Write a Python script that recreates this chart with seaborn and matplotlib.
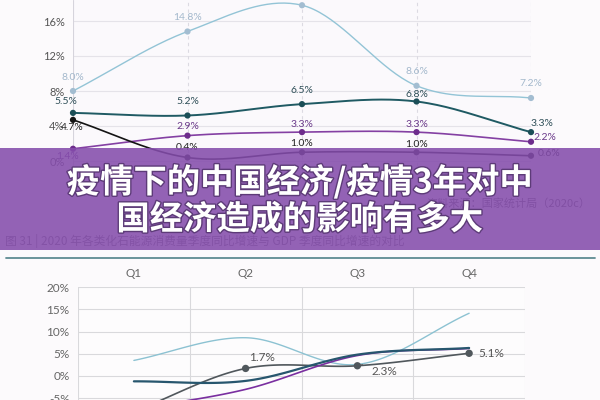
import numpy as np
import matplotlib
matplotlib.use("Agg")
import matplotlib.pyplot as plt
import matplotlib.patheffects as pe
from matplotlib.patches import Rectangle
from matplotlib.lines import Line2D
import seaborn as sns

# --- data: upper chart (five points per series) ---
top_pos = [0, 1, 2, 3, 4]
top_blue = [8.0, 14.8, 17.8, 8.6, 7.2]
top_teal = [5.5, 5.2, 6.5, 6.8, 3.3]
top_purple = [1.4, 2.9, 3.3, 3.3, 2.2]
top_black = [4.7, 0.4, 1.0, 1.0, 0.6]
top_yticks = [0, 4, 8, 12, 16]

# --- data: lower chart (quarters) ---
quarters = ["Q1", "Q2", "Q3", "Q4"]
bot_blue = [3.5, 8.6, 2.6, 14.1]
bot_gray = [-8.0, 1.7, 2.3, 5.1]
bot_teal = [-1.2, -1.1, 4.8, 6.3]
bot_purple = [-7.5, -3.0, 4.6, 6.2]
bot_yticks = [-10, -5, 0, 5, 10, 15, 20]

title_lines = ["疫情下的中国经济/疫情3年对中", "国经济造成的影响有多大"]
caption = "图 31 | 2020 年各类化石能源消费量季度同比增速与 GDP 季度同比增速的对比"
source = "资料来源：国家统计局（2020c）"

sns.set_theme(style="white")
plt.rcParams["font.family"] = ["Lato", "Noto Sans CJK SC", "DejaVu Sans"]
CJK = ["Noto Sans CJK SC", "DejaVu Sans"]

W, H = 600, 400


def box(x0, y0, x1, y1):
    return [x0 / W, 1 - y1 / H, (x1 - x0) / W, (y1 - y0) / H]


def smooth(x, y, n=40):
    # cubic hermite curve through the points, only for drawing
    x = np.asarray(x, float)
    y = np.asarray(y, float)
    m = np.gradient(y, x)
    xs, ys = [], []
    for i in range(len(x) - 1):
        t = np.linspace(0, 1, n)
        h = x[i + 1] - x[i]
        h00 = 2 * t**3 - 3 * t**2 + 1
        h10 = t**3 - 2 * t**2 + t
        h01 = -2 * t**3 + 3 * t**2
        h11 = t**3 - t**2
        xs.append(x[i] + t * h)
        ys.append(h00 * y[i] + h10 * h * m[i] + h01 * y[i + 1] + h11 * h * m[i + 1])
    return np.concatenate(xs), np.concatenate(ys)


def draw_series(ax, x, y, line_c, mark_c, lw, z, marks=True, s=20):
    sx, sy = smooth(x, y)
    sns.lineplot(x=sx, y=sy, ax=ax, color=line_c, linewidth=lw, sort=False,
                 estimator=None, zorder=z)
    if marks:
        sns.scatterplot(x=x, y=y, ax=ax, color=mark_c, s=s, edgecolor="none",
                        zorder=z + 0.5, clip_on=False)


def labels(ax, x, y, offs, color, size=7.5):
    # offs entry None = label sits outside the picture, not drawn
    for xi, yi, off in zip(x, y, offs):
        if off is None:
            continue
        ax.annotate(f"{yi:.1f}%", (xi, yi), xytext=off, textcoords="offset pixels",
                    ha="center", va="center", fontsize=size, color=color, zorder=10)


fig = plt.figure(figsize=(6, 4), dpi=100, facecolor="#fcfafc")

# ---------------- upper chart ----------------
ax1 = fig.add_axes(box(73, 0, 531, 178.5))
ax1.set_facecolor("#fbf9fc")
ax1.set_xlim(0, 4)
ax1.set_ylim(-2, 18.4)
for v in top_yticks:
    ax1.axhline(v, color="#e5e3e9", lw=0.8, zorder=0)
for p in top_pos[1:]:
    ax1.axvline(p, color="#dcdae2", lw=0.8, ls=(0, (3, 3)), zorder=0)
ax1.axvline(0, color="#d6d4dc", lw=0.8, zorder=0)
for s in ax1.spines.values():
    s.set_visible(False)
ax1.set_xticks([])
ax1.set_yticks(top_yticks)
ax1.set_yticklabels([f"{v}%" for v in top_yticks])
ax1.tick_params(axis="y", length=0, pad=6, labelsize=8, labelcolor="#555555")

draw_series(ax1, top_pos, top_blue, "#93c4d6", "#a3bdd1", 1.0, 3)
draw_series(ax1, top_pos, top_teal, "#1f5a63", "#1b4e57", 1.4, 5)
draw_series(ax1, top_pos, top_purple, "#8440a3", "#6d2c8c", 1.2, 4)
draw_series(ax1, top_pos, top_black, "#141414", "#141414", 1.2, 6)

labels(ax1, top_pos, top_blue, [(0, 14), (0, 14), None, (0, 14), (0, 14)], "#a3b8cc")
labels(ax1, top_pos, top_teal, [(-7, 11), (0, 14), (0, 14), (0, 7), (11, 9)], "#2f4f58")
labels(ax1, top_pos, top_purple, [(-5, -8), (0, 9), (0, 8), (0, 8), (14, 4)], "#6b3a8a")
labels(ax1, top_pos, top_black, [(-1, -8), (0, 10), (0, 9), (0, 8), (18, 2)], "#222222")

# ---------------- lower chart ----------------
ax2 = fig.add_axes(box(78, 287, 525, 420.5))
ax2.set_facecolor("#fdfcfd")
ax2.set_xlim(-0.5, 3.5)
ax2.set_ylim(-10, 20)
for v in bot_yticks:
    ax2.axhline(v, color="#d9d9dc", lw=0.8, zorder=0)
for p in np.arange(-0.5, 4, 1):
    ax2.axvline(p, color="#d9d9dc", lw=0.8, zorder=0)
for s in ax2.spines.values():
    s.set_visible(False)
ax2.set_yticks(bot_yticks)
ax2.set_yticklabels([f"{v}%" for v in bot_yticks])
ax2.xaxis.tick_top()
ax2.set_xticks(range(len(quarters)))
ax2.set_xticklabels(quarters)
ax2.tick_params(axis="both", length=0, pad=6, labelsize=8.5, labelcolor="#666666")

q = list(range(len(quarters)))
draw_series(ax2, q, bot_blue, "#8cc2d2", "#8cc2d2", 1.0, 3, marks=False)
draw_series(ax2, q, bot_gray, "#50575c", "#50575c", 1.2, 4, s=28)
draw_series(ax2, q, bot_purple, "#7a2fa0", "#7a2fa0", 1.2, 5, marks=False)
draw_series(ax2, q, bot_teal, "#27566e", "#27566e", 1.6, 6, marks=False)

ax2.annotate("1.7%", (1, bot_gray[1]), xytext=(16, 11), textcoords="offset pixels",
             ha="center", va="center", fontsize=8.5, color="#555555")
ax2.annotate("2.3%", (2, bot_gray[2]), xytext=(27, -6), textcoords="offset pixels",
             ha="center", va="center", fontsize=8.5, color="#555555",
             arrowprops=dict(arrowstyle="-", color="#777777", lw=0.7,
                             connectionstyle="arc3,rad=0.3", shrinkA=4, shrinkB=2))
ax2.annotate("5.1%", (3, bot_gray[3]), xytext=(22, 0), textcoords="offset pixels",
             ha="center", va="center", fontsize=8.5, color="#555555")

# rule above the lower chart
fig.add_artist(Line2D([6 / W, 595 / W], [1 - 258 / H] * 2, color="#5e8c92", lw=1.3))

# texts that sit below the banner
fig.text(5 / W, 1 - 241 / H, caption, ha="left", va="center", fontsize=8.5,
         color="#777777", family=CJK, zorder=1)
fig.text(590 / W, 1 - 203 / H, source, ha="right", va="center", fontsize=8,
         color="#666666", family=CJK, zorder=1)

# purple banner with title
fig.add_artist(Rectangle((0, 1 - 250 / H), 1, 102 / H, transform=fig.transFigure,
                         facecolor="#854dac", alpha=0.88, edgecolor="none", zorder=5))
for txt, yp in zip(title_lines, [182, 220]):
    fig.text(0.5, 1 - yp / H, txt, ha="center", va="center", fontsize=24,
             fontweight="bold", color="white", family=CJK, zorder=6,
             path_effects=[pe.withStroke(linewidth=2, foreground="#5d3b78")])

fig.savefig("out.png", dpi=100, facecolor=fig.get_facecolor())
